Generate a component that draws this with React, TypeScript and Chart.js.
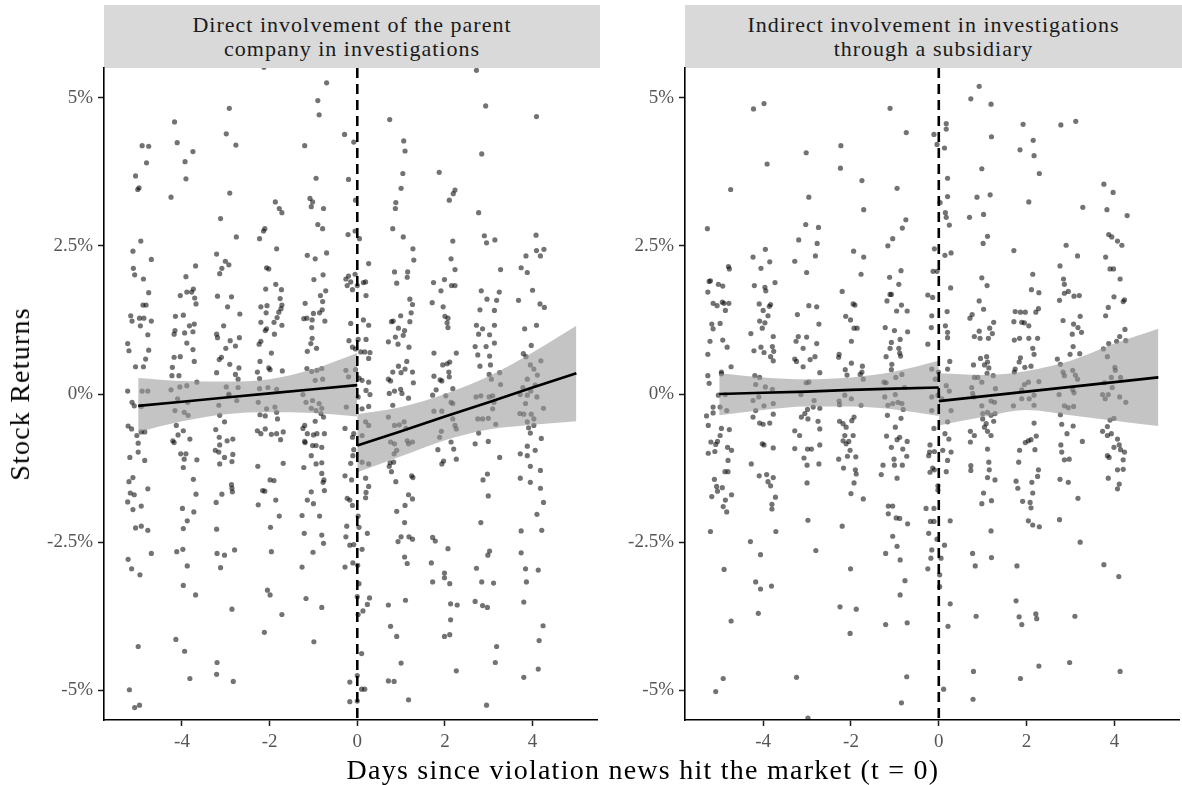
import React, { useEffect, useRef } from "react";
import { Chart, registerables } from "chart.js";

Chart.register(...registerables);

const SERIF = "'Liberation Serif', 'Times New Roman', serif";

const directTitle = ["Direct involvement of the parent", "company in investigations"];
const indirectTitle = ["Indirect involvement in investigations", "through a subsidiary"];
const xAxisTitle = "Days since violation news hit the market (t = 0)";
const yAxisTitle = "Stock Returns";

const dayTicks = [-4, -2, 0, 2, 4];
const returnTicks = [-5, -2.5, 0, 2.5, 5];
const dayLimits = [-5.78, 5.48];
const returnLimits = [-5.5, 5.5];

// days used by the two fitted segments (before / after the news)
const preDays = [-5, -4, -3, -2, -1, 0];
const postDays = [0, 1, 2, 3, 4, 5];

// direct involvement: linear fit and 95% band
const directPreFit = [-0.2, -0.13, -0.06, 0.01, 0.08, 0.15];
const directPreUpper = [0.27, 0.22, 0.21, 0.25, 0.42, 0.69];
const directPreLower = [-0.64, -0.46, -0.34, -0.31, -0.32, -0.38];
const directPostFit = [-0.87, -0.63, -0.38, -0.14, 0.11, 0.35];
const directPostUpper = [-0.34, -0.22, 0.0, 0.3, 0.7, 1.15];
const directPostLower = [-1.32, -1.05, -0.78, -0.6, -0.52, -0.46];

// indirect involvement: linear fit and 95% band
const indirectPreFit = [0.0, 0.02, 0.04, 0.07, 0.09, 0.11];
const indirectPreUpper = [0.35, 0.28, 0.25, 0.28, 0.38, 0.56];
const indirectPreLower = [-0.36, -0.27, -0.21, -0.21, -0.26, -0.37];
const indirectPostFit = [-0.12, -0.04, 0.04, 0.12, 0.2, 0.28];
const indirectPostUpper = [0.35, 0.32, 0.39, 0.56, 0.85, 1.1];
const indirectPostLower = [-0.53, -0.39, -0.27, -0.36, -0.45, -0.54];

// daily stock returns (%), [jittered day, return]
const directPoints: [number, number][] = [
  // day -5
  [-4.91, 4.19], [-4.76, 4.18], [-4.81, 3.9], [-5.06, 3.68], [-4.98, 3.48], [-5.01, 3.45], [-4.94, 2.58], [-5.12, 2.41],
  [-4.7, 2.27], [-5.11, 2.12], [-5.08, 2.01], [-4.88, 1.94], [-4.76, 1.71], [-4.89, 1.5], [-4.82, 1.5], [-5.17, 1.32],
  [-5.14, 1.23], [-4.97, 1.28], [-4.87, 1.28], [-4.7, 1.23], [-4.95, 1.15], [-4.78, 1.0], [-5.24, 0.85], [-5.21, 0.73],
  [-4.76, 0.74], [-5.06, 0.46], [-4.88, 0.46], [-4.83, 0.59], [-5.24, 0.05], [-4.91, 0.05], [-4.78, 0.05],
  [-5.09, -0.2], [-4.93, -0.21], [-5.14, -0.14], [-5.23, -0.54], [-5.15, -0.59], [-5.03, -0.7], [-5.0, -0.83], [-4.93, -0.64],
  [-4.85, -0.64], [-5.0, -0.98], [-5.19, -1.07], [-4.85, -1.12], [-5.21, -1.48], [-5.12, -1.41], [-5.18, -1.67], [-5.09, -1.7],
  [-5.24, -1.82], [-4.93, -1.89], [-5.12, -1.95], [-4.78, -1.6], [-5.06, -2.26], [-4.93, -2.23], [-4.78, -2.3], [-5.23, -2.79],
  [-5.15, -2.95], [-4.96, -3.05], [-4.7, -2.69], [-5.0, -4.26], [-5.2, -4.99], [-5.08, -5.29], [-4.97, -5.25],
  // day -4
  [-4.17, 4.59], [-4.11, 4.24], [-3.93, 3.92], [-3.91, 3.63], [-3.75, 4.09], [-4.25, 3.32], [-3.69, 2.16], [-3.91, 1.98],
  [-4.04, 1.66], [-3.89, 1.72], [-3.78, 1.72], [-3.74, 1.77], [-3.71, 1.62], [-3.68, 1.52], [-4.15, 1.31], [-3.97, 1.33],
  [-3.83, 1.15], [-3.72, 1.18], [-4.16, 1.07], [-4.18, 1.01], [-3.94, 1.03], [-3.75, 1.05], [-3.89, 0.86], [-3.75, 0.75],
  [-4.18, 0.62], [-4.04, 0.63], [-3.72, 0.55], [-4.22, 0.45], [-4.07, 0.31], [-4.23, 0.31], [-3.89, 0.14], [-4.05, 0.12],
  [-4.25, 0.07], [-3.66, 0.2],
  [-4.1, -0.08], [-3.87, -0.14], [-4.16, -0.28], [-3.95, -0.31], [-3.86, -0.36], [-4.13, -0.53], [-3.97, -0.62], [-4.09, -0.69],
  [-3.82, -0.76], [-4.21, -0.79], [-4.18, -0.82], [-4.03, -1.01], [-3.91, -1.01], [-3.95, -1.1], [-3.66, -1.11], [-3.97, -1.24],
  [-3.74, -1.44], [-3.68, -1.69], [-3.99, -1.93], [-3.73, -1.99], [-3.88, -2.14], [-3.97, -2.27], [-4.12, -2.66], [-3.98, -2.62],
  [-3.88, -2.9], [-3.97, -3.23], [-3.69, -3.39], [-4.14, -4.14], [-3.94, -4.34], [-3.82, -4.8],
  // day -3
  [-2.92, 4.82], [-2.99, 4.39], [-2.77, 4.2], [-2.91, 3.39], [-3.12, 2.96], [-2.76, 2.65], [-3.21, 2.36], [-3.01, 2.24],
  [-2.93, 2.18], [-3.09, 2.12], [-3.14, 2.03], [-3.19, 1.65], [-2.87, 1.64], [-2.96, 1.47], [-2.68, 1.35], [-3.05, 1.15],
  [-3.21, 1.01], [-3.19, 0.95], [-2.9, 0.9], [-2.69, 0.95], [-2.78, 0.81], [-3.0, 0.77], [-3.1, 0.62], [-3.15, 0.58],
  [-2.91, 0.5], [-2.7, 0.44], [-2.78, 0.33], [-3.21, 0.36], [-2.72, 0.25], [-2.99, 0.12], [-2.72, 0.11], [-2.93, 0.0],
  [-3.16, -0.19], [-2.93, -0.02], [-2.75, -0.11], [-3.14, -0.36], [-3.03, -0.47], [-3.23, -0.6], [-3.15, -0.73], [-2.97, -0.79],
  [-2.84, -0.76], [-3.14, -0.86], [-3.24, -0.95], [-3.16, -0.98], [-3.03, -1.07], [-2.84, -1.02], [-2.86, -1.14], [-3.14, -1.18],
  [-2.87, -1.53], [-2.86, -1.59], [-2.85, -1.65], [-3.09, -1.69], [-3.22, -1.83], [-3.21, -2.28], [-3.2, -2.69], [-3.03, -2.72],
  [-2.8, -2.63], [-3.12, -2.93], [-2.86, -3.63], [-3.2, -4.53], [-3.21, -4.73], [-2.83, -4.85],
  // day -2
  [-2.13, 5.51], [-1.87, 3.24], [-1.78, 3.13], [-1.72, 3.06], [-2.14, 2.75], [-2.11, 2.79], [-2.23, 2.62], [-1.84, 2.45],
  [-2.07, 2.13], [-2.02, 2.11], [-2.09, 1.77], [-1.86, 1.85], [-1.73, 1.76], [-2.2, 1.47], [-2.06, 1.49], [-1.76, 1.61],
  [-1.72, 1.5], [-1.74, 1.44], [-2.08, 1.37], [-1.79, 1.38], [-1.83, 1.29], [-2.2, 1.21], [-2.07, 1.1], [-2.1, 1.07],
  [-1.9, 1.21], [-1.72, 1.16], [-1.89, 1.01], [-2.24, 0.84], [-2.2, 0.89], [-1.96, 0.69], [-2.22, 0.55], [-2.02, 0.44],
  [-1.71, 0.39], [-2.28, 0.37], [-1.99, 0.41], [-2.23, 0.26], [-2.23, 0.09], [-2.04, 0.11], [-1.84, 0.08],
  [-2.26, -0.14], [-2.07, -0.25], [-1.88, -0.22], [-1.84, -0.31], [-2.22, -0.35], [-2.1, -0.37], [-1.82, -0.42], [-2.28, -0.62],
  [-2.2, -0.67], [-2.1, -0.59], [-1.96, -0.68], [-1.84, -0.67], [-1.69, -0.64], [-1.75, -0.77], [-2.27, -1.22], [-1.69, -1.17],
  [-1.99, -1.45], [-1.9, -1.46], [-2.16, -1.63], [-2.11, -1.64], [-1.86, -1.79], [-2.26, -1.87], [-1.78, -2.06], [-1.98, -2.25],
  [-1.96, -2.66], [-2.05, -3.31], [-1.99, -3.39], [-1.72, -3.72], [-2.12, -4.02],
  // day -1
  [-0.7, 5.25], [-0.9, 4.95], [-0.87, 4.71], [-1.2, 4.19], [-0.94, 3.64], [-0.77, 3.13], [-1.08, 3.3], [-1.02, 3.24],
  [-1.05, 3.16], [-0.9, 2.86], [-0.79, 2.79], [-0.7, 2.38], [-1.14, 2.34], [-0.96, 2.28], [-0.78, 2.01], [-0.99, 1.93],
  [-0.72, 1.74], [-0.84, 1.66], [-0.79, 1.56], [-1.19, 1.53], [-1.0, 1.36], [-0.8, 1.42], [-0.86, 1.37], [-1.15, 1.28],
  [-1.22, 1.27], [-1.03, 1.25], [-0.74, 1.23], [-1.04, 1.12], [-1.03, 0.94], [-1.06, 0.85], [-0.93, 0.77], [-1.14, 0.72],
  [-1.15, 0.43], [-1.04, 0.38], [-0.92, 0.4], [-0.81, 0.43], [-0.96, 0.23], [-0.79, 0.25],
  [-1.24, -0.01], [-1.17, -0.14], [-1.02, -0.11], [-0.87, -0.16], [-0.81, -0.24], [-1.05, -0.24], [-0.94, -0.28], [-0.83, -0.33],
  [-0.77, -0.39], [-1.2, -0.53], [-1.24, -0.58], [-0.96, -0.46], [-1.14, -0.67], [-1.0, -0.69], [-0.92, -0.67], [-0.75, -0.67],
  [-1.2, -0.8], [-1.19, -0.82], [-1.02, -0.87], [-0.94, -0.87], [-0.81, -0.9], [-1.05, -1.04], [-0.94, -1.18], [-0.81, -1.16],
  [-1.22, -1.24], [-0.76, -1.45], [-0.78, -1.49], [-0.81, -1.34], [-0.75, -1.63], [-1.05, -1.65], [-1.14, -1.79], [-1.0, -1.85],
  [-1.26, -2.05], [-0.86, -2.06], [-1.21, -2.35], [-0.81, -2.38], [-0.77, -2.52], [-1.01, -2.67], [-1.26, -2.92], [-1.17, -3.45],
  [-0.81, -3.6], [-0.99, -4.18],
  // day 0
  [-0.29, 4.38], [-0.08, 4.25], [-0.2, 3.62], [-0.04, 3.27], [-0.21, 2.69], [-0.05, 2.75], [0.05, 2.62], [0.26, 2.2],
  [-0.2, 1.99], [-0.05, 2.02], [-0.26, 1.94], [-0.15, 1.89], [0.19, 1.89], [0.14, 1.88], [0.2, 1.66], [0.0, 1.83],
  [-0.23, 1.83], [-0.11, 1.76], [-0.15, 1.19], [0.14, 1.25], [0.26, 1.16], [-0.19, 0.9], [0.02, 0.92], [0.2, 0.92],
  [-0.11, 0.79], [-0.04, 0.76], [0.08, 0.71], [0.17, 0.71], [0.29, 0.7], [0.26, 0.6], [0.04, 0.27], [0.11, 0.23],
  [0.2, 0.06], [0.26, 0.2], [-0.26, 0.4], [-0.04, 0.41], [-0.2, 0.29],
  [0.02, -0.05], [0.11, -0.25], [0.26, -0.21], [0.29, -0.01], [-0.25, -0.22], [0.19, -0.47], [0.26, -0.53], [-0.08, -0.67],
  [-0.11, -0.73], [-0.28, -0.58], [0.11, -0.7], [-0.08, -0.94], [-0.1, -1.04], [-0.15, -1.17], [0.11, -1.15], [0.26, -1.18],
  [-0.28, -1.38], [-0.13, -1.45], [0.19, -1.42], [0.26, -1.56], [0.2, -1.66], [0.19, -1.75], [-0.23, -1.76], [-0.17, -1.79],
  [-0.11, -1.88], [0.02, -2.06], [0.23, -2.35], [0.04, -2.25], [-0.24, -2.23], [-0.26, -2.41], [-0.17, -2.55], [-0.08, -2.54],
  [0.11, -2.62], [0.01, -2.89], [-0.1, -2.85], [-0.28, -2.92], [0.04, -3.2], [0.0, -3.42], [0.28, -3.44], [0.23, -3.55],
  [0.13, -3.66], [0.02, -3.72], [0.1, -4.38], [0.0, -4.75], [-0.17, -4.86], [0.17, -4.98], [0.1, -4.98], [0.0, -5.18],
  [-0.17, -5.19],
  // day 1
  [0.74, 4.63], [1.06, 4.27], [1.09, 4.1], [1.04, 3.72], [1.0, 3.47], [0.88, 3.23], [0.87, 3.13], [0.81, 2.79],
  [1.05, 2.65], [1.27, 2.45], [1.29, 2.26], [0.85, 2.06], [1.15, 2.06], [1.14, 1.97], [0.9, 1.87], [1.2, 1.6],
  [1.26, 1.51], [0.99, 1.32], [1.23, 1.37], [0.82, 1.23], [0.78, 1.22], [1.2, 1.22], [0.94, 1.11], [1.08, 1.07],
  [1.05, 0.99], [0.71, 0.88], [0.87, 0.96], [0.93, 0.84], [1.18, 0.79], [1.13, 0.55], [0.94, 0.47], [1.09, 0.42],
  [1.0, 0.36], [1.26, 0.37], [0.81, 0.37], [0.76, 0.22], [0.71, 0.25], [1.28, 0.19], [0.99, 0.08], [0.85, 0.05],
  [0.73, 0.01], [1.02, 0.01], [1.17, -0.07], [0.81, -0.19], [0.71, -0.39], [0.85, -0.53], [0.96, -0.52], [1.07, -0.47],
  [1.11, -0.58], [0.76, -0.81], [0.85, -0.84], [1.14, -0.79], [1.26, -0.81], [1.17, -0.84], [0.9, -0.95], [0.84, -1.01],
  [0.73, -1.22], [0.78, -1.31], [0.75, -1.16], [0.83, -1.15], [1.24, -1.38], [1.27, -1.41], [0.88, -1.48], [1.17, -1.7],
  [1.09, -1.88], [1.26, -1.77], [0.9, -1.98], [1.08, -2.17], [0.93, -2.49], [1.0, -2.41], [1.18, -2.41], [1.26, -2.45],
  [1.08, -2.75], [1.14, -2.86], [1.1, -3.48], [0.71, -3.56], [0.76, -3.92], [0.9, -4.09], [1.0, -4.54], [0.71, -4.84],
  [0.84, -4.85], [1.17, -5.16],
  // day 2
  [1.87, 3.74], [2.23, 3.44], [2.19, 3.38], [2.1, 3.27], [2.18, 2.58], [2.14, 2.28], [2.23, 2.1], [1.99, 1.93],
  [1.74, 1.88], [2.15, 1.83], [2.23, 1.83], [1.91, 1.74], [1.71, 1.54], [1.96, 1.47], [2.0, 1.31], [2.07, 1.28],
  [2.05, 1.2], [2.07, 1.12], [1.75, 0.69], [2.26, 0.69], [1.95, 0.49], [2.05, 0.51], [2.11, 0.54], [2.09, 0.37],
  [1.75, 0.3], [1.93, 0.22], [1.89, 0.24], [2.1, 0.29], [1.8, 0.07], [2.18, 0.09],
  [1.72, -0.02], [2.02, -0.03], [2.18, -0.16], [2.14, -0.14], [1.93, -0.29], [1.75, -0.29], [2.23, -0.53], [2.26, -0.59],
  [2.18, -0.42], [1.92, -0.63], [1.88, -0.73], [2.14, -0.81], [2.2, -0.93], [1.84, -0.94], [2.26, -1.1], [1.97, -1.13],
  [1.93, -1.18], [1.69, -2.85], [1.72, -3.17], [1.99, -3.02], [1.99, -3.1], [2.11, -3.2], [2.07, -2.61], [2.13, -3.54],
  [2.28, -3.56], [2.13, -3.81], [2.11, -4.06], [1.99, -4.09], [2.26, -4.67], [1.72, -2.42], [1.78, -2.48],
  // day 3
  [2.72, 5.46], [2.93, 4.86], [2.84, 4.05], [2.77, 3.06], [2.9, 2.67], [2.95, 2.55], [3.14, 2.6], [3.27, 2.1],
  [2.83, 1.74], [2.96, 1.6], [3.18, 1.58], [3.24, 1.72], [2.8, 1.42], [3.13, 1.41], [2.72, 1.16], [2.86, 1.1],
  [2.77, 1.01], [3.02, 1.0], [3.13, 1.16], [3.13, 0.86], [2.94, 0.8], [2.69, 0.8], [2.75, 0.66], [3.02, 0.64],
  [2.8, 0.47], [3.04, 0.49], [3.25, 0.36], [3.01, 0.33], [3.06, 0.25], [3.27, 0.16],
  [2.71, -0.05], [2.82, -0.03], [3.01, -0.05], [3.09, -0.03], [3.12, -0.14], [2.75, -0.42], [2.86, -0.42], [3.09, -0.25],
  [2.99, -0.41], [3.16, -0.51], [2.77, -0.66], [2.69, -0.84], [2.99, -0.8], [3.25, -1.07], [2.97, -1.35], [2.87, -1.45],
  [2.99, -1.72], [2.82, -2.17], [3.02, -2.65], [2.98, -2.72], [2.72, -2.94], [2.84, -3.17], [3.11, -3.19], [2.69, -3.5],
  [2.86, -3.57], [2.97, -3.6], [3.18, -4.26], [3.15, -4.53], [2.95, -5.25],
  // day 4
  [4.09, 4.68], [4.08, 2.68], [3.85, 2.33], [4.09, 2.42], [4.18, 2.33], [4.26, 2.44], [3.74, 2.13], [3.88, 2.05],
  [4.0, 1.75], [3.68, 1.58], [4.17, 1.52], [4.27, 1.46], [3.82, 1.1], [4.09, 1.16], [3.97, 0.82], [3.79, 0.68],
  [3.85, 0.63], [4.19, 0.56], [3.95, 0.49], [4.03, 0.42], [4.11, 0.32], [3.88, 0.25], [4.06, 0.15], [3.78, 0.11],
  [3.96, 0.05],
  [3.72, -0.01], [3.88, -0.02], [4.1, -0.05], [4.25, -0.24], [3.84, -0.16], [3.8, -0.34], [3.71, -0.33], [3.97, -0.34],
  [4.03, -0.42], [3.88, -0.47], [4.03, -0.53], [3.91, -0.57], [3.95, -0.66], [4.2, -0.75], [3.88, -0.88], [3.72, -1.01],
  [3.88, -1.04], [4.06, -0.95], [3.95, -1.22], [4.18, -1.29], [3.72, -1.42], [3.95, -1.49], [4.18, -1.59], [4.25, -1.83],
  [4.1, -2.03], [3.74, -2.31], [4.21, -2.3], [3.74, -2.68], [3.84, -2.95], [4.13, -2.97], [3.86, -3.17], [3.8, -3.51],
  [4.24, -3.91], [4.15, -4.16], [4.13, -4.64], [3.8, -4.78],
];

const indirectPoints: [number, number][] = [
  // day -5
  [-5.27, 2.79], [-4.74, 3.45], [-4.79, 2.15], [-4.77, 2.11], [-5.2, 1.91], [-5.23, 1.9], [-5.02, 1.85], [-4.92, 1.82],
  [-5.26, 1.72], [-5.14, 1.53], [-5.05, 1.49], [-4.93, 1.55], [-4.89, 1.53], [-4.78, 1.53], [-4.86, 1.41], [-5.17, 1.18],
  [-5.14, 1.1], [-4.98, 1.19], [-5.21, 0.89], [-4.92, 0.91], [-4.82, 0.79], [-5.26, 0.67], [-4.73, 0.46], [-4.95, 0.34],
  [-5.26, 0.31], [-5.23, 0.18], [-4.95, 0.37],
  [-5.02, -0.02], [-4.86, -0.01], [-5.14, -0.22], [-4.98, -0.22], [-4.83, -0.28], [-5.29, -0.37], [-5.14, -0.32], [-5.25, -0.53],
  [-4.95, -0.58], [-4.77, -0.6], [-5.19, -0.81], [-5.04, -0.8], [-5.08, -0.85], [-4.98, -0.7], [-4.81, -0.9], [-4.72, -0.95],
  [-5.25, -1.0], [-5.1, -0.97], [-4.8, -1.12], [-4.87, -1.31], [-4.8, -1.31], [-5.11, -1.44], [-5.06, -1.56], [-4.93, -1.58],
  [-5.04, -1.64], [-4.72, -1.7], [-5.17, -1.73], [-4.86, -1.79], [-4.91, -1.9], [-4.83, -1.99], [-5.2, -2.32], [-4.89, -2.96],
  [-4.73, -3.83], [-4.91, -4.8], [-5.08, -5.02],
  // day -4
  [-4.22, 4.81], [-3.98, 4.9], [-3.91, 3.88], [-3.95, 2.44], [-4.23, 2.31], [-3.85, 2.23], [-4.05, 2.12], [-4.2, 1.83],
  [-3.73, 1.88], [-3.96, 1.8], [-3.94, 1.74], [-4.09, 1.52], [-3.83, 1.51], [-3.86, 1.48], [-4.0, 1.41], [-3.89, 1.32],
  [-4.08, 1.23], [-3.96, 1.2], [-4.02, 1.11], [-4.28, 1.02], [-3.77, 0.97], [-3.79, 0.8], [-4.05, 0.79], [-3.76, 0.72],
  [-4.21, 0.73], [-3.98, 0.7], [-3.83, 0.63], [-3.77, 0.56], [-4.19, 0.31], [-4.08, 0.28], [-4.17, 0.16], [-3.95, 0.12],
  [-3.79, 0.08],
  [-4.23, -0.11], [-4.1, -0.05], [-3.98, -0.2], [-3.77, -0.16], [-4.17, -0.28], [-4.23, -0.39], [-4.08, -0.49], [-4.0, -0.51],
  [-3.85, -0.49], [-3.77, -0.34], [-4.02, -0.84], [-3.98, -0.86], [-3.77, -0.91], [-4.27, -1.18], [-4.09, -1.38], [-3.92, -1.36],
  [-3.77, -1.41], [-3.89, -1.48], [-3.83, -1.55], [-3.72, -1.74], [-3.8, -1.86], [-3.8, -1.94], [-3.71, -2.32], [-4.29, -2.49],
  [-4.06, -2.71], [-4.17, -3.17], [-4.06, -3.29], [-3.81, -3.24], [-4.11, -3.7],
  // day -3
  [-3.02, 4.07], [-2.96, 3.32], [-3.03, 2.86], [-3.19, 2.6], [-2.74, 2.81], [-2.77, 2.54], [-2.81, 2.33], [-3.28, 2.24],
  [-3.01, 2.05], [-3.22, 1.34], [-2.96, 1.49], [-2.78, 1.47], [-2.73, 1.18], [-3.2, 0.97], [-3.01, 0.96], [-2.78, 0.85],
  [-3.09, 0.77], [-3.25, 0.89], [-3.28, 0.59], [-2.82, 0.63], [-2.93, 0.58], [-3.24, 0.55], [-3.09, 0.46], [-2.71, 0.36],
  [-2.96, 0.2], [-3.02, 0.19],
  [-3.14, -0.01], [-2.84, -0.11], [-2.71, -0.24], [-2.99, -0.26], [-2.86, -0.22], [-3.13, -0.39], [-3.05, -0.33], [-2.98, -0.42],
  [-2.75, -0.46], [-3.28, -0.62], [-3.17, -0.7], [-2.71, -0.59], [-3.28, -0.92], [-2.99, -0.93], [-2.9, -0.93], [-2.71, -0.86],
  [-3.07, -1.08], [-3.0, -1.2], [-2.73, -1.18], [-3.0, -1.5], [-2.98, -2.13], [-2.8, -2.64], [-3.24, -4.78], [-2.98, -5.47],
  // day -2
  [-2.23, 4.19], [-2.24, 3.81], [-1.75, 3.6], [-1.71, 3.11], [-1.94, 2.41], [-1.71, 2.31], [-1.77, 2.02], [-2.2, 1.73],
  [-1.95, 1.52], [-1.91, 1.5], [-2.12, 1.31], [-2.01, 1.25], [-1.93, 1.11], [-1.86, 1.11], [-1.99, 0.89], [-2.27, 0.67],
  [-2.28, 0.62], [-2.13, 0.41], [-2.09, 0.32], [-1.99, 0.52], [-1.74, 0.47], [-1.75, 0.37], [-1.79, 0.33], [-1.72, 0.25],
  [-2.14, -0.02], [-1.99, -0.08], [-2.27, -0.12], [-2.26, -0.18], [-1.77, -0.19], [-1.93, -0.39], [-1.98, -0.45], [-2.26, -0.46],
  [-2.18, -0.5], [-2.11, -0.56], [-2.14, -0.7], [-1.95, -0.7], [-2.18, -0.79], [-2.05, -0.8], [-2.11, -0.84], [-2.02, -0.95],
  [-1.89, -1.06], [-2.08, -1.05], [-2.28, -1.1], [-2.17, -1.25], [-1.9, -1.28], [-1.88, -1.35], [-1.93, -1.5], [-2.0, -1.68],
  [-1.72, -1.77], [-2.2, -2.23], [-2.01, -2.95], [-2.25, -3.59], [-1.88, -3.63], [-2.02, -4.04],
  // day -1
  [-1.11, 4.82], [-0.74, 4.41], [-0.95, 3.47], [-0.75, 2.94], [-0.83, 2.8], [-1.05, 2.62], [-1.16, 2.5], [-0.86, 2.08],
  [-1.12, 1.97], [-0.91, 1.85], [-1.11, 1.68], [-1.08, 1.68], [-1.18, 1.57], [-0.85, 1.5], [-0.96, 1.4], [-0.72, 1.4],
  [-1.22, 1.12], [-1.01, 1.07], [-0.71, 1.05], [-1.08, 0.87], [-0.88, 0.92], [-0.91, 0.77], [-1.11, 0.77], [-1.2, 0.63],
  [-0.89, 0.69], [-0.87, 0.64], [-1.07, 0.5], [-1.08, 0.41], [-0.84, 0.33], [-0.98, 0.28], [-1.2, 0.19], [-1.25, 0.2],
  [-0.78, 0.11],
  [-1.23, -0.05], [-0.99, -0.01], [-1.16, -0.19], [-1.05, -0.16], [-0.93, -0.14], [-0.84, -0.16], [-1.17, -0.36], [-0.81, -0.26],
  [-0.86, -0.41], [-0.99, -0.56], [-1.19, -0.71], [-0.89, -0.73], [-0.95, -0.77], [-0.72, -0.8], [-1.08, -0.9], [-0.82, -0.93],
  [-0.73, -1.05], [-1.02, -1.1], [-1.27, -1.2], [-1.01, -1.2], [-0.83, -1.2], [-1.31, -1.36], [-0.95, -1.42], [-1.15, -1.89],
  [-1.05, -1.89], [-1.15, -2.02], [-0.97, -2.09], [-0.89, -2.1], [-0.71, -2.19], [-1.05, -2.4], [-0.95, -2.57], [-1.21, -2.69],
  [-0.88, -2.8], [-0.77, -3.15], [-0.88, -3.39], [-1.21, -3.89], [-0.72, -3.86], [-0.73, -4.77], [-0.85, -5.21],
  // day 0
  [0.2, 5.55], [-0.11, 4.38], [-0.04, 4.21], [0.13, 4.15], [0.17, 4.56], [0.17, 4.47], [0.2, 3.64], [0.03, 3.23],
  [0.2, 3.33], [0.15, 3.06], [0.17, 2.98], [0.24, 2.85], [0.14, 2.34], [0.28, 2.38], [-0.1, 2.45], [-0.13, 2.07],
  [-0.04, 2.07], [0.27, 1.79], [0.19, 1.39], [-0.14, 1.63], [-0.25, 1.67], [-0.16, 1.32], [-0.17, 1.12], [-0.25, 0.84],
  [0.15, 1.15], [0.2, 1.04], [0.2, 0.95], [0.25, 0.55], [-0.16, 0.42], [0.2, 0.42], [-0.01, 0.37], [0.17, 0.14],
  [0.24, 0.05], [-0.08, 0.25],
  [-0.16, -0.05], [-0.02, -0.02], [0.07, -0.08], [0.28, -0.28], [-0.16, -0.28], [0.2, -0.47], [-0.11, -0.58], [0.14, -0.67],
  [0.23, -0.76], [-0.2, -0.86], [-0.21, -0.98], [-0.1, -0.97], [0.09, -0.95], [0.28, -0.98], [-0.23, -1.04], [0.2, -1.12],
  [-0.14, -1.25], [-0.2, -1.32], [-0.1, -1.28], [0.17, -1.31], [-0.02, -1.55], [-0.02, -1.62], [-0.29, -1.93], [-0.11, -1.93],
  [-0.19, -2.15], [-0.11, -2.15], [0.26, -2.14], [-0.23, -2.35], [-0.04, -2.45], [0.13, -2.55], [-0.16, -2.63], [0.05, -2.77],
  [-0.18, -2.77], [-0.25, -2.95], [0.02, -3.05], [0.02, -3.25], [0.26, -3.54], [0.21, -3.92], [0.11, -4.98],
  // day 1
  [0.92, 5.19], [0.73, 4.98], [1.19, 4.89], [1.2, 4.34], [0.98, 3.8], [0.87, 3.32], [1.17, 3.36], [1.02, 3.03],
  [0.7, 2.98], [1.11, 2.66], [1.01, 2.54], [0.98, 1.96], [1.1, 1.83], [0.92, 1.57], [1.02, 1.43], [0.76, 1.34],
  [0.71, 1.28], [1.25, 1.21], [1.16, 1.11], [0.81, 0.97], [0.92, 1.06], [0.94, 0.94], [1.13, 0.94], [1.22, 1.02],
  [1.09, 0.63], [0.95, 0.6], [1.11, 0.54], [0.79, 0.49], [1.04, 0.49], [1.14, 0.44], [1.1, 0.35], [0.89, 0.28],
  [1.24, 0.31], [0.81, 0.28], [0.98, 0.2], [1.29, 0.09], [0.75, 0.11],
  [0.77, 0.01], [0.98, -0.2], [1.19, -0.12], [1.27, -0.14], [0.8, -0.05], [1.0, -0.33], [1.11, -0.31], [1.28, -0.33],
  [1.0, -0.42], [1.19, -0.36], [1.25, -0.46], [1.08, -0.5], [1.04, -0.56], [0.72, -0.63], [0.81, -0.7], [1.11, -0.63],
  [1.19, -0.7], [0.72, -0.81], [1.11, -0.93], [0.73, -1.21], [0.73, -1.29], [1.14, -1.15], [1.15, -1.28], [1.11, -1.41],
  [1.28, -1.45], [1.02, -1.67], [0.98, -1.85], [1.2, -1.8], [1.19, -2.31], [0.77, -2.69], [0.83, -2.9], [1.2, -2.76],
  [0.85, -3.75], [0.79, -4.68], [0.78, -5.15],
  // day 2
  [1.92, 4.55], [2.15, 4.28], [1.85, 4.12], [2.17, 4.02], [2.29, 3.72], [2.05, 3.24], [1.71, 2.42], [2.14, 2.02],
  [2.11, 1.76], [2.28, 1.71], [2.21, 1.38], [2.27, 1.44], [1.74, 1.39], [1.86, 1.38], [1.97, 1.38], [1.71, 1.22],
  [1.89, 1.21], [1.95, 1.2], [2.05, 1.15], [1.72, 0.91], [1.84, 0.94], [2.05, 0.94], [2.25, 0.94], [2.14, 0.77],
  [2.17, 0.67], [1.86, 0.61], [1.83, 0.54], [1.96, 0.45], [1.74, 0.42], [2.1, 0.47], [1.72, 0.37], [2.04, 0.2],
  [1.95, 0.16], [2.28, 0.21], [1.89, 0.07],
  [1.89, -0.08], [2.06, -0.08], [2.17, -0.02], [2.17, -0.19], [1.7, -0.2], [2.17, -0.49], [2.22, -0.71], [2.1, -0.77],
  [1.97, -0.82], [2.04, -0.79], [2.19, -0.94], [1.84, -0.95], [1.82, -1.15], [2.27, -1.28], [2.25, -1.39], [1.76, -1.47],
  [2.12, -1.49], [1.8, -1.59], [2.14, -1.67], [1.91, -1.81], [2.08, -1.83], [2.1, -1.92], [2.04, -2.14], [2.14, -2.21],
  [2.29, -2.24], [1.78, -2.9], [1.76, -3.49], [1.83, -3.76], [1.89, -3.89], [2.21, -3.71], [2.23, -3.79], [2.28, -4.59],
  [1.86, -4.8],
  // day 3
  [2.78, 4.54], [3.12, 4.6], [3.28, 3.15], [2.9, 2.51], [3.16, 2.33], [2.76, 2.16], [2.84, 1.94], [2.86, 1.85],
  [2.95, 1.73], [2.86, 1.7], [3.08, 1.65], [3.2, 1.66], [2.75, 1.58], [2.83, 1.24], [3.22, 1.31], [3.07, 1.18],
  [3.17, 1.12], [3.25, 1.04], [3.04, 1.01], [3.06, 0.8], [3.21, 0.68], [2.99, 0.67], [2.7, 0.59], [2.77, 0.5],
  [2.83, 0.37], [3.05, 0.4], [3.11, 0.32], [2.86, 0.31], [3.16, 0.25], [3.05, 0.07],
  [2.74, -0.01], [3.08, 0.02], [2.77, -0.35], [2.86, -0.2], [2.95, -0.23], [3.07, -0.21], [2.8, -0.51], [3.06, -0.54],
  [2.92, -0.67], [3.27, -0.8], [2.78, -0.86], [2.8, -0.98], [2.86, -1.11], [2.97, -1.1], [2.76, -1.44], [2.95, -1.49],
  [3.17, -1.76], [2.75, -2.12], [3.22, -2.5], [3.1, -3.75], [2.98, -4.53],
  // day 4
  [3.76, 3.54], [3.97, 3.4], [3.83, 3.11], [4.29, 3.01], [3.87, 2.69], [3.94, 2.65], [4.07, 2.58], [4.17, 2.51],
  [3.8, 2.31], [3.9, 2.11], [3.98, 2.11], [4.13, 1.94], [3.99, 1.64], [4.23, 1.59], [4.2, 1.56], [3.86, 1.46],
  [3.8, 1.32], [4.24, 1.09], [4.12, 0.97], [4.05, 0.89], [4.26, 0.9], [3.87, 0.85], [3.75, 0.76], [3.84, 0.63],
  [4.01, 0.45], [4.02, 0.4], [4.14, 0.28], [3.93, 0.28], [3.77, 0.19], [3.95, 0.11],
  [3.73, -0.01], [3.86, -0.01], [3.79, -0.08], [4.12, -0.05], [4.26, -0.14], [3.99, -0.41], [3.9, -0.44], [3.84, -0.55],
  [3.73, -0.63], [3.93, -0.67], [3.84, -0.7], [4.07, -0.76], [4.11, -0.86], [3.99, -0.9], [4.14, -0.94], [4.23, -0.98],
  [3.84, -1.04], [3.88, -1.07], [4.2, -1.11], [4.07, -1.28], [4.2, -1.27], [3.86, -1.42], [4.11, -1.52], [4.07, -1.6],
  [3.76, -2.88], [4.1, -3.08], [4.13, -4.68],
];

const POINT_COLOR = "rgba(0,0,0,0.55)";
const BAND_COLOR = "rgba(153,153,153,0.58)";
const TICK_LABEL_COLOR = "#555555";

// panel geometry (px): canvas top and plot-area inset
const CANVAS_TOP = 46;
const PLOT_TOP_PAD = 22;
const X_AXIS_HEIGHT = 40;
const PLOT_BOTTOM = 720;
const CANVAS_HEIGHT = PLOT_BOTTOM - CANVAS_TOP + X_AXIS_HEIGHT;

type Segment = { days: number[]; fit: number[]; upper: number[]; lower: number[] };

function series(days: number[], values: number[]) {
  return days.map((d, i) => ({ x: d, y: values[i] }));
}

function buildConfig(points: [number, number][], segments: Segment[], yAxisWidth: number): any {
  const datasets: any[] = [
    {
      type: "scatter",
      data: points.map(([x, y]) => ({ x, y })),
      pointRadius: 2.6,
      pointHoverRadius: 2.6,
      backgroundColor: POINT_COLOR,
      borderWidth: 0,
      clip: 0,
      order: 10,
    },
  ];
  segments.forEach((s) => {
    const idx = datasets.length;
    datasets.push({
      type: "line",
      data: series(s.days, s.upper),
      borderWidth: 0,
      pointRadius: 0,
      backgroundColor: BAND_COLOR,
      fill: idx + 1,
      cubicInterpolationMode: "monotone",
      clip: 0,
      order: 8,
    });
    datasets.push({
      type: "line",
      data: series(s.days, s.lower),
      borderWidth: 0,
      pointRadius: 0,
      backgroundColor: BAND_COLOR,
      fill: false,
      cubicInterpolationMode: "monotone",
      clip: 0,
      order: 8,
    });
  });
  segments.forEach((s) => {
    datasets.push({
      type: "line",
      data: series(s.days, s.fit),
      borderColor: "#000000",
      borderWidth: 2.6,
      pointRadius: 0,
      fill: false,
      clip: 0,
      order: 4,
    });
  });
  // event day marker
  datasets.push({
    type: "line",
    data: [
      { x: 0, y: returnLimits[1] },
      { x: 0, y: returnLimits[0] },
    ],
    borderColor: "#000000",
    borderWidth: 2.6,
    borderDash: [10, 6],
    pointRadius: 0,
    fill: false,
    clip: 0,
    order: 1,
  });

  const tickFont = { family: SERIF, size: 19 };
  return {
    type: "scatter",
    data: { datasets },
    options: {
      animation: false,
      responsive: false,
      maintainAspectRatio: false,
      devicePixelRatio: 1,
      events: [],
      layout: { padding: { top: PLOT_TOP_PAD, left: 0, right: 0, bottom: 0 } },
      plugins: { legend: { display: false }, tooltip: { enabled: false }, title: { display: false } },
      scales: {
        x: {
          type: "linear",
          min: dayLimits[0],
          max: dayLimits[1],
          afterBuildTicks: (scale: any) => {
            scale.ticks = dayTicks.map((v) => ({ value: v }));
          },
          afterFit: (scale: any) => {
            scale.height = X_AXIS_HEIGHT;
          },
          ticks: {
            color: TICK_LABEL_COLOR,
            font: tickFont,
            padding: 5,
            maxRotation: 0,
            autoSkip: false,
            callback: (v: number) => String(v),
          },
          grid: { drawOnChartArea: false, drawTicks: true, tickLength: 6, tickColor: "#1a1a1a", tickWidth: 1.5 },
          border: { display: true, color: "#000000", width: 1.6 },
        },
        y: {
          type: "linear",
          min: returnLimits[0],
          max: returnLimits[1],
          afterBuildTicks: (scale: any) => {
            scale.ticks = returnTicks.map((v) => ({ value: v }));
          },
          afterFit: (scale: any) => {
            scale.width = yAxisWidth;
          },
          ticks: {
            color: TICK_LABEL_COLOR,
            font: tickFont,
            padding: 5,
            autoSkip: false,
            callback: (v: number) => `${v}%`,
          },
          grid: { drawOnChartArea: false, drawTicks: true, tickLength: 6, tickColor: "#1a1a1a", tickWidth: 1.5 },
          border: { display: true, color: "#000000", width: 1.6 },
        },
      },
    },
  };
}

function Panel(props: {
  left: number;
  width: number;
  yAxisWidth: number;
  points: [number, number][];
  segments: Segment[];
}) {
  const ref = useRef<HTMLCanvasElement | null>(null);
  useEffect(() => {
    if (!ref.current) return;
    const chart = new Chart(ref.current, buildConfig(props.points, props.segments, props.yAxisWidth));
    return () => chart.destroy();
  }, []);
  return (
    <canvas
      ref={ref}
      width={props.width}
      height={CANVAS_HEIGHT}
      style={{ position: "absolute", left: props.left, top: CANVAS_TOP, width: props.width, height: CANVAS_HEIGHT }}
    />
  );
}

function Strip(props: { left: number; width: number; lines: string[] }) {
  return (
    <div
      style={{
        position: "absolute",
        left: props.left,
        top: 5,
        width: props.width,
        height: 63,
        background: "#d9d9d9",
        display: "flex",
        flexDirection: "column",
        justifyContent: "center",
        alignItems: "center",
        fontFamily: SERIF,
        fontSize: 22,
        letterSpacing: "1px",
        lineHeight: "24px",
        color: "#1a1a1a",
        textAlign: "center",
      }}
    >
      {props.lines.map((l) => (
        <div key={l}>{l}</div>
      ))}
    </div>
  );
}

export default function App() {
  const directSegments: Segment[] = [
    { days: preDays, fit: directPreFit, upper: directPreUpper, lower: directPreLower },
    { days: postDays, fit: directPostFit, upper: directPostUpper, lower: directPostLower },
  ];
  const indirectSegments: Segment[] = [
    { days: preDays, fit: indirectPreFit, upper: indirectPreUpper, lower: indirectPreLower },
    { days: postDays, fit: indirectPostFit, upper: indirectPostUpper, lower: indirectPostLower },
  ];
  return (
    <div
      style={{
        position: "absolute",
        left: 0,
        top: 0,
        width: 1182,
        height: 785,
        background: "#ffffff",
        overflow: "hidden",
      }}
    >
      <Strip left={104} width={496} lines={directTitle} />
      <Strip left={685} width={497} lines={indirectTitle} />
      <Panel left={0} width={600} yAxisWidth={104} points={directPoints} segments={directSegments} />
      <Panel left={600} width={582} yAxisWidth={85} points={indirectPoints} segments={indirectSegments} />
      <div
        style={{
          position: "absolute",
          left: 20,
          top: 394,
          transform: "translate(-50%, -50%) rotate(-90deg)",
          whiteSpace: "nowrap",
          fontFamily: SERIF,
          fontSize: 28,
          letterSpacing: "1.2px",
          color: "#000000",
        }}
      >
        {yAxisTitle}
      </div>
      <div
        style={{
          position: "absolute",
          left: 643,
          top: 770,
          transform: "translate(-50%, -50%)",
          whiteSpace: "nowrap",
          fontFamily: SERIF,
          fontSize: 28,
          letterSpacing: "1.25px",
          color: "#000000",
        }}
      >
        {xAxisTitle}
      </div>
    </div>
  );
}
